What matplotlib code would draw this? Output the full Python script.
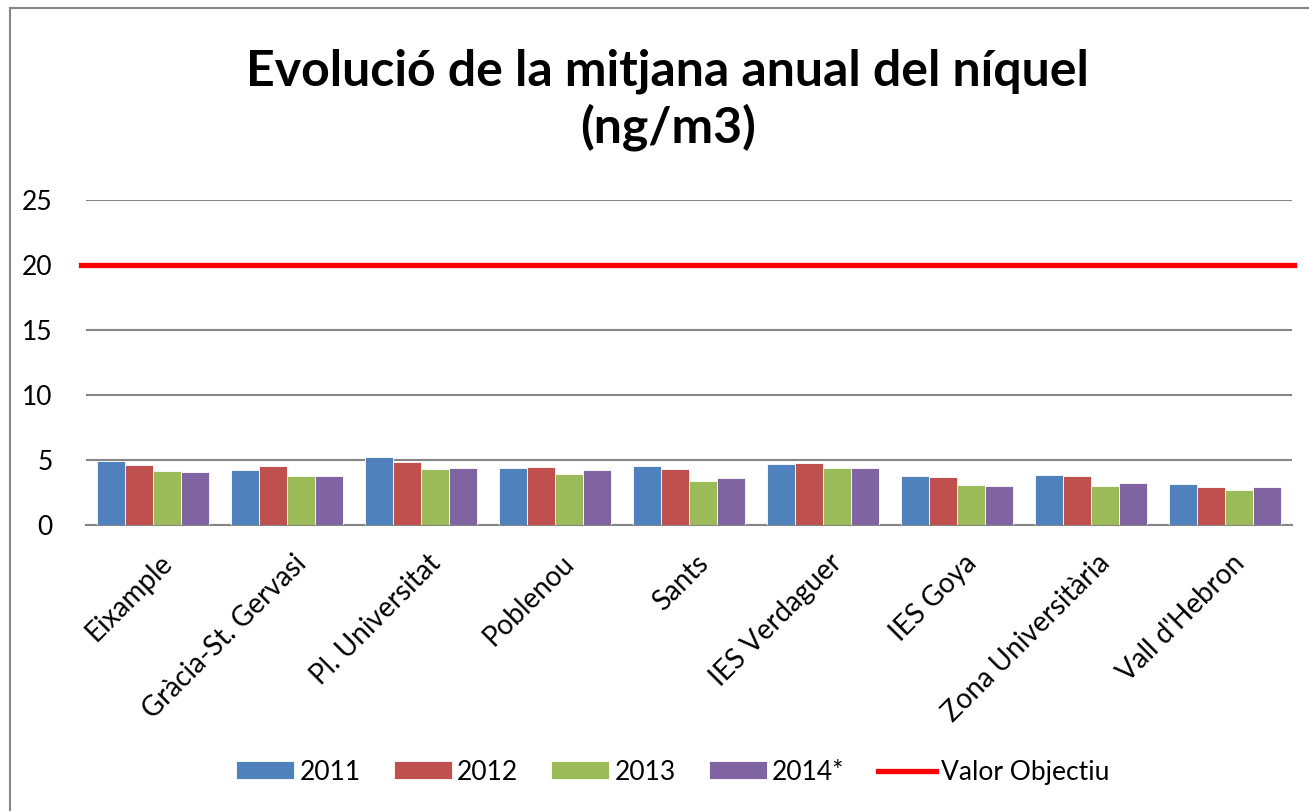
import matplotlib.pyplot as plt
import numpy as np
from matplotlib.lines import Line2D
from matplotlib.transforms import ScaledTranslation

plt.rcParams['font.family'] = ['Lato', 'DejaVu Sans']

STATIONS = [
    'Eixample', 'Gràcia-St. Gervasi', 'Pl. Universitat', 'Poblenou', 'Sants',
    'IES Verdaguer', 'IES Goya', 'Zona Universitària', "Vall d'Hebron",
]
YEARS = ['2011', '2012', '2013', '2014*']
VALUES_2011 = [4.9, 4.2, 5.2, 4.4, 4.55, 4.7, 3.75, 3.85, 3.15]
VALUES_2012 = [4.6, 4.55, 4.85, 4.45, 4.3, 4.8, 3.7, 3.75, 2.95]
VALUES_2013 = [4.15, 3.8, 4.3, 3.9, 3.4, 4.4, 3.05, 3.0, 2.7]
VALUES_2014 = [4.1, 3.75, 4.35, 4.2, 3.6, 4.35, 3.0, 3.25, 2.9]
TARGET = 20
TARGET_LABEL = 'Valor Objectiu'
YTICKS = [0, 5, 10, 15, 20, 25]

COLORS = ['#4F81BD', '#C0504D', '#9BBB59', '#8064A2']
GRID = '#868686'
FONT = 19

fig = plt.figure(figsize=(13.09, 8.11), dpi=100)
ax = fig.add_axes([0.0657, 0.3527, 0.9213, 0.4007])

series = [VALUES_2011, VALUES_2012, VALUES_2013, VALUES_2014]
x = np.arange(len(STATIONS))
width = 0.2095
for i, (vals, label, col) in enumerate(zip(series, YEARS, COLORS)):
    ax.bar(x + (i - 1.5) * width, vals, width, color=col, label=label,
           edgecolor='white', linewidth=0.6, zorder=3)

ax.axhline(TARGET, color='#FF0000', linewidth=3.8, label=TARGET_LABEL,
           zorder=4, xmin=-0.004, xmax=1.002, clip_on=False)

ax.set_xlim(-0.5, len(STATIONS) - 0.5)
ax.set_ylim(0, 25)
ax.set_yticks(YTICKS)
ax.yaxis.grid(True, color=GRID, linewidth=1.5, zorder=0)
ax.set_axisbelow(True)
for side in ['left', 'right', 'top']:
    ax.spines[side].set_visible(False)
ax.spines['bottom'].set_color(GRID)
ax.spines['bottom'].set_linewidth(1.5)
ax.tick_params(axis='both', length=0, labelsize=FONT)
ax.tick_params(axis='y', pad=24)

ax.set_xticks(x)
ax.set_xticklabels(STATIONS, rotation=45, ha='right', va='top',
                   rotation_mode='anchor', fontsize=20)
ax.tick_params(axis='x', pad=18)
shift = ScaledTranslation(6 / 100, 0, fig.dpi_scale_trans)
for lbl in ax.get_xticklabels():
    lbl.set_transform(lbl.get_transform() + shift)

fig.text(0.51, 0.877, 'Evolució de la mitjana anual del níquel\n(ng/m3)',
         ha='center', va='center', fontsize=36, fontweight='bold',
         linespacing=1.25)

handles, labels = ax.get_legend_handles_labels()
order = [1, 2, 3, 4, 0]
ax.legend([handles[i] for i in order], [labels[i] for i in order],
          loc='center', bbox_to_anchor=(0.514, 0.048),
          bbox_transform=fig.transFigure, ncol=5, frameon=False,
          fontsize=FONT, handlelength=2.2, handleheight=0.65,
          handletextpad=0.2, columnspacing=1.25)

# chart border (only top and left are inside the crop)
fig.add_artist(Line2D([0.0076, 0.0076], [0, 0.990], color=GRID, linewidth=1.5,
                      transform=fig.transFigure))
fig.add_artist(Line2D([0.0076, 1], [0.990, 0.990], color=GRID, linewidth=1.5,
                      transform=fig.transFigure))

fig.savefig('out.png', dpi=100)
